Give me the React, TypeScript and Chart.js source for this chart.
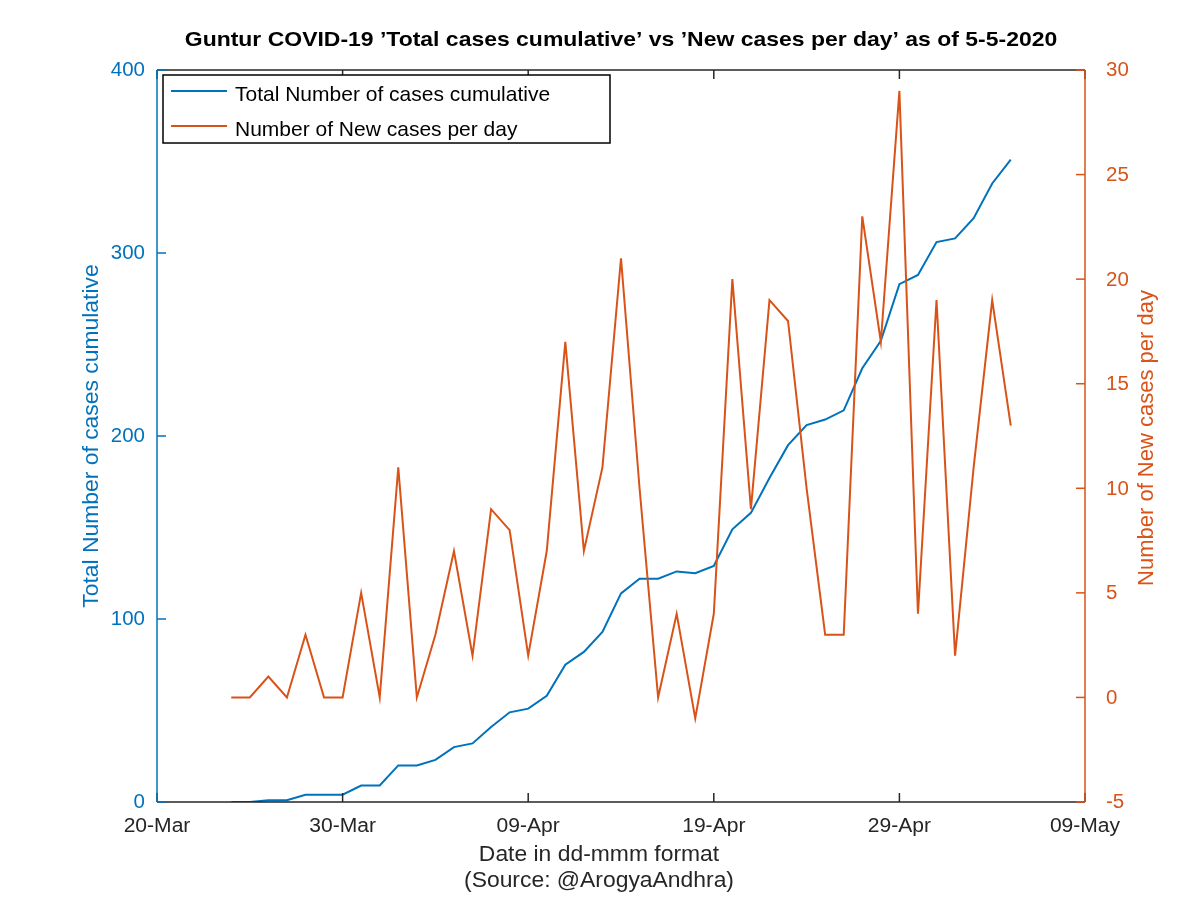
import React, { useEffect, useRef } from "react";
import { Chart, registerables } from "chart.js";

Chart.register(...registerables);

// ---------------- data ----------------
const START_DATE = "2020-03-20";

const dates = [
  "2020-03-24", "2020-03-25", "2020-03-26", "2020-03-27", "2020-03-28", "2020-03-29", "2020-03-30", "2020-03-31",
  "2020-04-01", "2020-04-02", "2020-04-03", "2020-04-04", "2020-04-05", "2020-04-06", "2020-04-07", "2020-04-08",
  "2020-04-09", "2020-04-10", "2020-04-11", "2020-04-12", "2020-04-13", "2020-04-14", "2020-04-15", "2020-04-16",
  "2020-04-17", "2020-04-18", "2020-04-19", "2020-04-20", "2020-04-21", "2020-04-22", "2020-04-23", "2020-04-24",
  "2020-04-25", "2020-04-26", "2020-04-27", "2020-04-28", "2020-04-29", "2020-04-30",
  "2020-05-01", "2020-05-02", "2020-05-03", "2020-05-04", "2020-05-05",
];

const totalCases = [
  0, 0, 1, 1, 4, 4, 4, 9,
  9, 20, 20, 23, 30, 32, 41, 49,
  51, 58, 75, 82, 93, 114, 122, 122,
  126, 125, 129, 149, 158, 177, 195, 206,
  209, 214, 237, 252, 283, 288,
  306, 308, 319, 338, 351,
];

const newCases = [
  0, 0, 1, 0, 3, 0, 0, 5,
  0, 11, 0, 3, 7, 2, 9, 8,
  2, 7, 17, 7, 11, 21, 10, 0,
  4, -1, 4, 20, 9, 19, 18, 10,
  3, 3, 23, 17, 29, 4,
  19, 2, 11, 19, 13,
];

const xTickDates = ["2020-03-20", "2020-03-30", "2020-04-09", "2020-04-19", "2020-04-29", "2020-05-09"];
const leftTicks = [0, 100, 200, 300, 400];
const rightTicks = [-5, 0, 5, 10, 15, 20, 25, 30];

const seriesLabels = ["Total Number of cases cumulative", "Number of New cases per day"];
const titleText = "Guntur COVID-19 \u2019Total cases cumulative\u2019 vs \u2019New cases per day\u2019 as of 5-5-2020";
const xLabelLines = ["Date in dd-mmm format", "(Source: @ArogyaAndhra)"];
const leftAxisLabel = "Total Number of cases cumulative";
const rightAxisLabel = "Number of New cases per day";

// ---------------- helpers ----------------
const MONTHS = ["Jan", "Feb", "Mar", "Apr", "May", "Jun", "Jul", "Aug", "Sep", "Oct", "Nov", "Dec"];
const DAY_MS = 86400000;
const dayOf = (iso: string) => Math.round((Date.parse(iso + "T00:00:00Z") - Date.parse(START_DATE + "T00:00:00Z")) / DAY_MS);
const fmtDate = (iso: string) => {
  const d = new Date(iso + "T00:00:00Z");
  return String(d.getUTCDate()).padStart(2, "0") + "-" + MONTHS[d.getUTCMonth()];
};

const FONT = '"Liberation Sans", Arial, Helvetica, sans-serif';
const BLUE = "#0072BD";
const ORANGE = "#D95319";
const AXIS = "#262626";

type TextOpt = {
  size: number;
  bold?: boolean;
  color: string;
  align: CanvasTextAlign;
  baseline: CanvasTextBaseline;
  rot?: number;
  sx?: number;
};

function drawText(ctx: CanvasRenderingContext2D, s: string, x: number, y: number, o: TextOpt) {
  ctx.save();
  ctx.translate(x, y);
  if (o.rot) ctx.rotate(o.rot);
  ctx.scale(o.sx ?? 1, 1);
  ctx.font = `${o.bold ? "bold " : ""}${o.size}px ${FONT}`;
  ctx.fillStyle = o.color;
  ctx.textAlign = o.align;
  ctx.textBaseline = o.baseline;
  ctx.fillText(s, 0, 0);
  ctx.restore();
}

function seg(ctx: CanvasRenderingContext2D, x1: number, y1: number, x2: number, y2: number, color: string, w = 1.5) {
  ctx.save();
  ctx.strokeStyle = color;
  ctx.lineWidth = w;
  ctx.beginPath();
  ctx.moveTo(x1, y1);
  ctx.lineTo(x2, y2);
  ctx.stroke();
  ctx.restore();
}

const matlabAxesPlugin = {
  id: "matlabAxes",
  afterDatasetsDraw(chart: any) {
    const ctx: CanvasRenderingContext2D = chart.ctx;
    const a = chart.chartArea;
    const xs = chart.scales.x;
    const yl = chart.scales.y;
    const yr = chart.scales.y1;
    const TICK = 9;

    // box: top & bottom (black)
    seg(ctx, a.left, a.top, a.right, a.top, AXIS);
    seg(ctx, a.left, a.bottom, a.right, a.bottom, AXIS);

    // x ticks + labels
    xTickDates.forEach((d) => {
      const px = xs.getPixelForValue(dayOf(d));
      seg(ctx, px, a.bottom, px, a.bottom - TICK, AXIS);
      seg(ctx, px, a.top, px, a.top + TICK, AXIS);
      drawText(ctx, fmtDate(d), px, a.bottom + 30, {
        size: 19.5, color: AXIS, align: "center", baseline: "alphabetic", sx: 1.08,
      });
    });

    // left axis (blue)
    seg(ctx, a.left, a.top, a.left, a.bottom, BLUE);
    leftTicks.forEach((v) => {
      const py = yl.getPixelForValue(v);
      seg(ctx, a.left, py, a.left + TICK, py, BLUE);
      drawText(ctx, String(v), a.left - 12, py + 1, {
        size: 19.5, color: BLUE, align: "right", baseline: "middle", sx: 1.05,
      });
    });

    // right axis (orange)
    seg(ctx, a.right, a.top, a.right, a.bottom, ORANGE);
    rightTicks.forEach((v) => {
      const py = yr.getPixelForValue(v);
      seg(ctx, a.right, py, a.right - TICK, py, ORANGE);
      drawText(ctx, String(v), a.right + 21, py + 1, {
        size: 19.5, color: ORANGE, align: "left", baseline: "middle", sx: 1.05,
      });
    });

    const midY = (a.top + a.bottom) / 2;
    // axis titles
    drawText(ctx, leftAxisLabel, a.left - 65, midY, {
      size: 22, color: BLUE, align: "center", baseline: "middle", rot: -Math.PI / 2, sx: 1.04,
    });
    drawText(ctx, rightAxisLabel, a.right + 62, midY + 2, {
      size: 22, color: ORANGE, align: "center", baseline: "middle", rot: -Math.PI / 2, sx: 1.0,
    });

    // x label lines
    const cx = (a.left + a.right) / 2 - 22;
    drawText(ctx, xLabelLines[0], cx, a.bottom + 59, {
      size: 22, color: AXIS, align: "center", baseline: "alphabetic", sx: 1.04,
    });
    drawText(ctx, xLabelLines[1], cx, a.bottom + 85, {
      size: 22, color: AXIS, align: "center", baseline: "alphabetic", sx: 1.04,
    });

    // title
    drawText(ctx, titleText, (a.left + a.right) / 2, a.top - 24, {
      size: 20.5, bold: true, color: "#000000", align: "center", baseline: "alphabetic", sx: 1.12,
    });

    // legend
    const lx = a.left + 6;
    const ly = a.top + 5;
    const lw = 447;
    const lh = 68;
    ctx.save();
    ctx.fillStyle = "#ffffff";
    ctx.fillRect(lx, ly, lw, lh);
    ctx.strokeStyle = "#000000";
    ctx.lineWidth = 1.5;
    ctx.strokeRect(lx, ly, lw, lh);
    ctx.restore();
    const colors = [BLUE, ORANGE];
    const rowsY = [ly + 16, ly + 51];
    chart.data.datasets.forEach((ds: any, i: number) => {
      const ry = rowsY[i];
      seg(ctx, lx + 8, ry, lx + 64, ry, colors[i], 1.8);
      drawText(ctx, ds.label, lx + 72, ry + 4, {
        size: 21, color: "#000000", align: "left", baseline: "middle", sx: 1.0,
      });
    });
  },
};

export default function App() {
  const ref = useRef<HTMLCanvasElement | null>(null);

  useEffect(() => {
    if (!ref.current) return;
    const chart = new Chart(ref.current, {
      type: "line",
      data: {
        datasets: [
          {
            label: seriesLabels[0],
            data: dates.map((d, i) => ({ x: dayOf(d), y: totalCases[i] })),
            yAxisID: "y",
            borderColor: BLUE,
            backgroundColor: BLUE,
            borderWidth: 2,
            pointRadius: 0,
            tension: 0,
            fill: false,
            order: 1,
          },
          {
            label: seriesLabels[1],
            data: dates.map((d, i) => ({ x: dayOf(d), y: newCases[i] })),
            yAxisID: "y1",
            borderColor: ORANGE,
            backgroundColor: ORANGE,
            borderWidth: 2,
            pointRadius: 0,
            tension: 0,
            fill: false,
            order: 0,
          },
        ],
      },
      options: {
        responsive: false,
        animation: false,
        devicePixelRatio: 1,
        layout: { padding: { left: 157, right: 115, top: 70, bottom: 96 } },
        plugins: {
          legend: { display: false },
          tooltip: { enabled: false },
          title: { display: false },
        },
        events: [],
        scales: {
          x: { type: "linear", min: dayOf(xTickDates[0]), max: dayOf(xTickDates[xTickDates.length - 1]), display: false },
          y: { type: "linear", position: "left", min: leftTicks[0], max: leftTicks[leftTicks.length - 1], display: false },
          y1: { type: "linear", position: "right", min: rightTicks[0], max: rightTicks[rightTicks.length - 1], display: false },
        },
      },
      plugins: [matlabAxesPlugin],
    });
    return () => chart.destroy();
  }, []);

  return (
    <div style={{ position: "fixed", left: 0, top: 0, width: 1200, height: 898, background: "#ffffff" }}>
      <canvas ref={ref} width={1200} height={898} style={{ display: "block" }} />
    </div>
  );
}
